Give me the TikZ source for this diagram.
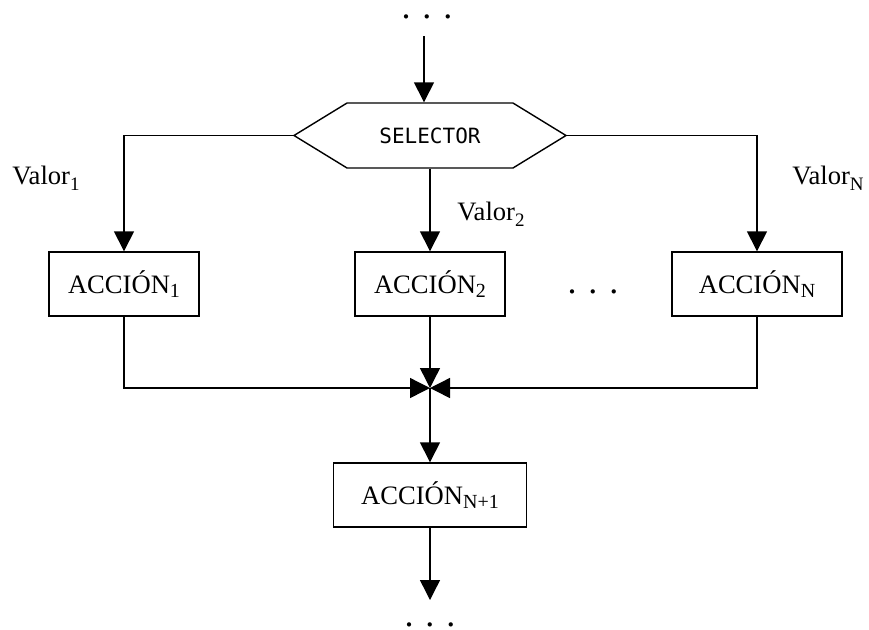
\documentclass[tikz,border=0pt]{standalone}
\usepackage{fontspec}
\setmainfont{Liberation Serif}
\newfontfamily\selfont{DejaVu Sans Mono}
\usetikzlibrary{arrows.meta,shapes.symbols}

\newcommand\accion[1]{ACCIÓN\raisebox{-2pt}{\fontsize{10}{12}\selectfont #1}}
\newcommand\valor[1]{Valor\raisebox{-3pt}{\fontsize{9.5}{11}\selectfont #1}}
\newcommand\tresp{{\fontsize{18}{18}\selectfont .\hspace{6pt}.\hspace{6pt}.}}

\tikzset{
  flecha/.style={-{Triangle[width=10pt,length=10pt]}},
  caja/.style={draw, minimum height=32pt, inner sep=0pt},
  puntos/.style={anchor=base, inner sep=0pt},
}

\begin{document}
\begin{tikzpicture}[x=0.5pt, y=-0.5pt, line width=0.7pt]
        \fontsize{13.3}{15}\selectfont
        \useasboundingbox (0,0) rectangle (869,629);

        % Selector
        \node[puntos] (dtop) at (427,18) {\tresp};
        \coordinate (ent) at (424,36);
        \node[draw, signal, signal to=east and west, signal pointer angle=63,
              minimum width=136pt, minimum height=32.5pt, inner sep=0pt]
              (sel) at (430,135.5) {\selfont\fontsize{10.5}{12}\selectfont SELECTOR};
        \draw[flecha] (ent) -- (ent |- sel.north);

        % Actions
        \node[caja, minimum width=75pt] (a1) at (124,284) {\accion{1}};
        \node[caja, minimum width=75pt] (a2) at (430,284) {\accion{2}};
        \node[caja, minimum width=85pt] (aN) at (757,284) {\accion{N}};
        \node[puntos] (dmed) at (593,293) {\tresp};

        % Branches
        \draw[flecha] (sel.west) -| (a1.north);
        \draw[flecha] (sel.south) -- (a2.north);
        \draw[flecha] (sel.east) -| (aN.north);

        \node (v1) at (46,178) {\valor{1}};
        \node (v2) at (491,214) {\valor{2}};
        \node (vN) at (828,178) {\valor{N}};

        % Join
        \coordinate (j) at (430,388);
        \draw[flecha] (a1.south) |- (j);
        \draw[flecha] (aN.south) |- (j);
        \draw[flecha] (a2.south) -- (j);

        % Next action
        \node[caja, minimum width=96.5pt] (aNN) at (430,495) {\accion{N+1}};
        \draw[flecha] (j) -- (aNN.north);
        \coordinate (sal) at (430,600);
        \draw[flecha] (aNN.south) -- (sal);
        \node[puntos] (dbot) at (430,626) {\tresp};

      \end{tikzpicture}
\end{document}
